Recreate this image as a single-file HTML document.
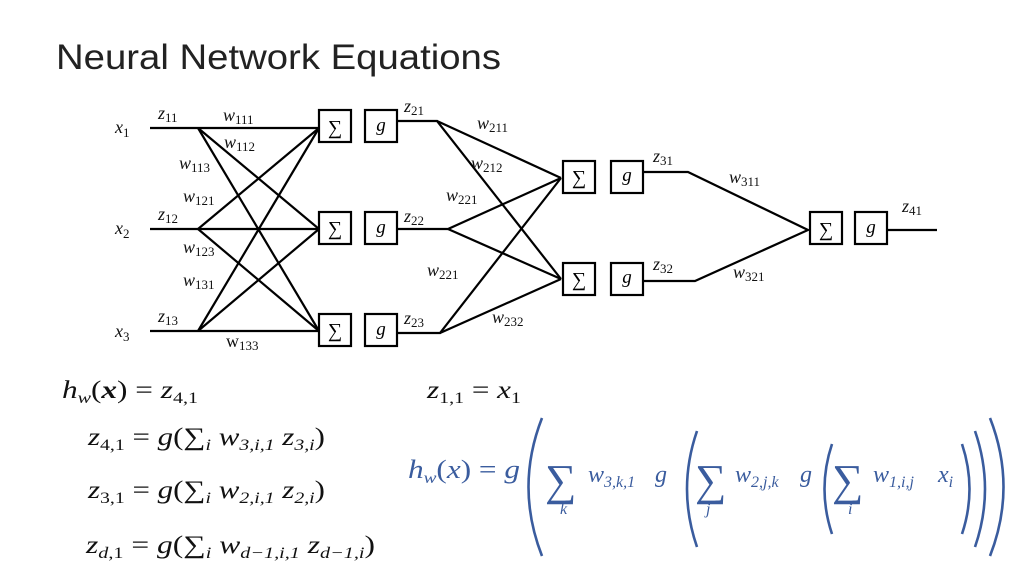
<!DOCTYPE html>
<html><head><meta charset="utf-8"><style>
html,body{margin:0;padding:0;background:#fff;}
svg{display:block;}
.m{font-family:"Liberation Serif",serif;font-style:italic;}
.s{font-size:13px;font-style:normal;}
</style></head><body>
<svg width="1024" height="576" viewBox="0 0 1024 576" xmlns="http://www.w3.org/2000/svg">
<text x="56" y="69" font-family="Liberation Sans, sans-serif" font-size="35" fill="#222" textLength="445" lengthAdjust="spacingAndGlyphs">Neural Network Equations</text>

<g stroke="#000" stroke-width="2.2" fill="none">
<line x1="150" y1="128" x2="319" y2="128"/>
<line x1="150" y1="229" x2="319" y2="229"/>
<line x1="150" y1="331" x2="319" y2="331"/>
<line x1="198" y1="128" x2="319" y2="229"/><line x1="198" y1="128" x2="319" y2="331"/>
<line x1="198" y1="229" x2="319" y2="128"/><line x1="198" y1="229" x2="319" y2="331"/>
<line x1="198" y1="331" x2="319" y2="128"/><line x1="198" y1="331" x2="319" y2="229"/>
<rect x="319" y="110" width="32" height="32"/><rect x="365" y="110" width="32" height="32"/>
<rect x="319" y="212" width="32" height="32"/><rect x="365" y="212" width="32" height="32"/>
<rect x="319" y="314" width="32" height="32"/><rect x="365" y="314" width="32" height="32"/>
<polyline points="397,121 437,121 561,279"/><line x1="437" y1="121" x2="561" y2="178"/>
<polyline points="397,229 448,229 561,178"/><line x1="448" y1="229" x2="561" y2="279"/>
<polyline points="397,333 440,333 561,178"/><line x1="440" y1="333" x2="561" y2="279"/>
<rect x="563" y="161" width="32" height="32"/><rect x="611" y="161" width="32" height="32"/>
<rect x="563" y="263" width="32" height="32"/><rect x="611" y="263" width="32" height="32"/>
<polyline points="643,172 688,172 808,230 695,281 643,281"/>
<rect x="810" y="212" width="32" height="32"/><rect x="855" y="212" width="32" height="32"/>
<line x1="887" y1="230" x2="937" y2="230"/>
</g>

<g font-family="Liberation Serif, serif" font-size="20" text-anchor="middle">
<text x="335" y="134">∑</text><text x="335" y="235">∑</text><text x="335" y="337">∑</text>
<text x="579" y="184">∑</text><text x="579" y="286">∑</text><text x="826" y="236">∑</text>
</g>
<g class="m" font-size="19" text-anchor="middle">
<text x="381" y="131">g</text><text x="381" y="233">g</text><text x="381" y="335">g</text>
<text x="627" y="181">g</text><text x="627" y="283">g</text><text x="871" y="233">g</text>
</g>

<g class="m" font-size="18" fill="#111">
<text x="115" y="133">x<tspan class="s" dy="4">1</tspan></text>
<text x="115" y="234">x<tspan class="s" dy="4">2</tspan></text>
<text x="115" y="337">x<tspan class="s" dy="4">3</tspan></text>
<text x="158" y="119">z<tspan class="s" dy="3">11</tspan></text>
<text x="158" y="220">z<tspan class="s" dy="3">12</tspan></text>
<text x="158" y="322">z<tspan class="s" dy="3">13</tspan></text>
<text x="223" y="121">w<tspan class="s" dy="3">111</tspan></text>
<text x="224" y="148">w<tspan class="s" dy="3">112</tspan></text>
<text x="179" y="169">w<tspan class="s" dy="3">113</tspan></text>
<text x="183" y="202">w<tspan class="s" dy="3">121</tspan></text>
<text x="183" y="253">w<tspan class="s" dy="3">123</tspan></text>
<text x="183" y="286">w<tspan class="s" dy="3">131</tspan></text>
<text x="226" y="347" font-style="normal">w<tspan class="s" dy="3">133</tspan></text>
<text x="404" y="112">z<tspan class="s" dy="3">21</tspan></text>
<text x="404" y="222">z<tspan class="s" dy="3">22</tspan></text>
<text x="404" y="324">z<tspan class="s" dy="3">23</tspan></text>
<text x="477" y="129">w<tspan class="s" dy="3">211</tspan></text>
<text x="471" y="169">w<tspan class="s" dy="3">212</tspan></text>
<text x="446" y="201">w<tspan class="s" dy="3">221</tspan></text>
<text x="427" y="276">w<tspan class="s" dy="3">221</tspan></text>
<text x="492" y="323">w<tspan class="s" dy="3">232</tspan></text>
<text x="653" y="162">z<tspan class="s" dy="3">31</tspan></text>
<text x="653" y="270">z<tspan class="s" dy="3">32</tspan></text>
<text x="729" y="183">w<tspan class="s" dy="3">311</tspan></text>
<text x="733" y="278">w<tspan class="s" dy="3">321</tspan></text>
<text x="902" y="212">z<tspan class="s" dy="3">41</tspan></text>
</g>

<g class="m" font-size="25" fill="#111">
<text x="62" y="398" textLength="136" lengthAdjust="spacingAndGlyphs">h<tspan font-size="16" dy="5">w</tspan><tspan dy="-5" font-style="normal">(</tspan><tspan font-weight="bold">x</tspan><tspan font-style="normal">) = </tspan>z<tspan font-size="16" dy="5" font-style="normal">4,1</tspan></text>
<text x="88" y="445" textLength="237" lengthAdjust="spacingAndGlyphs">z<tspan font-size="16" dy="5" font-style="normal">4,1</tspan><tspan dy="-5" font-style="normal"> = </tspan>g<tspan font-style="normal">(∑</tspan><tspan font-size="16" dy="5">i</tspan><tspan dy="-5"> w</tspan><tspan font-size="16" dy="5">3,i,1</tspan><tspan dy="-5"> z</tspan><tspan font-size="16" dy="5">3,i</tspan><tspan dy="-5" font-style="normal">)</tspan></text>
<text x="88" y="498" textLength="237" lengthAdjust="spacingAndGlyphs">z<tspan font-size="16" dy="5" font-style="normal">3,1</tspan><tspan dy="-5" font-style="normal"> = </tspan>g<tspan font-style="normal">(∑</tspan><tspan font-size="16" dy="5">i</tspan><tspan dy="-5"> w</tspan><tspan font-size="16" dy="5">2,i,1</tspan><tspan dy="-5"> z</tspan><tspan font-size="16" dy="5">2,i</tspan><tspan dy="-5" font-style="normal">)</tspan></text>
<text x="86" y="553" textLength="289" lengthAdjust="spacingAndGlyphs">z<tspan font-size="16" dy="5">d</tspan><tspan font-size="16" font-style="normal">,1</tspan><tspan dy="-5" font-style="normal"> = </tspan>g<tspan font-style="normal">(∑</tspan><tspan font-size="16" dy="5">i</tspan><tspan dy="-5"> w</tspan><tspan font-size="16" dy="5">d−1,i,1</tspan><tspan dy="-5"> z</tspan><tspan font-size="16" dy="5">d−1,i</tspan><tspan dy="-5" font-style="normal">)</tspan></text>
<text x="427" y="398" textLength="94" lengthAdjust="spacingAndGlyphs">z<tspan font-size="16" dy="5" font-style="normal">1,1</tspan><tspan dy="-5" font-style="normal"> = </tspan>x<tspan font-size="16" dy="5" font-style="normal">1</tspan></text>
</g>

<g fill="#3a5c9e">
<text class="m" x="408" y="478" font-size="26" textLength="112" lengthAdjust="spacingAndGlyphs">h<tspan font-size="16" dy="5">w</tspan><tspan dy="-5" font-style="normal">(</tspan>x<tspan font-style="normal">) = </tspan>g</text>
<g font-family="Liberation Serif, serif" font-size="44"><text x="545" y="495">∑</text><text x="695" y="495">∑</text><text x="832" y="495">∑</text></g>
<g class="m" font-size="16"><text x="560" y="514">k</text><text x="706" y="514">j</text><text x="848" y="514">i</text></g>
<g class="m" font-size="24">
<text x="588" y="482">w<tspan font-size="16" dy="5">3,k,1</tspan></text>
<text x="655" y="482">g</text>
<text x="735" y="482">w<tspan font-size="16" dy="5">2,j,k</tspan></text>
<text x="800" y="482">g</text>
<text x="873" y="482">w<tspan font-size="16" dy="5">1,i,j</tspan></text>
<text x="938" y="482">x<tspan font-size="16" dy="5">i</tspan></text>
</g>
</g>
<g fill="none" stroke="#3a5c9e" stroke-width="2.6">
<path d="M542,418 Q515,487 542,556"/>
<path d="M697,431 Q677,489 697,547"/>
<path d="M832,444 Q817,489 832,534"/>
<path d="M962,444 Q977,489 962,534"/>
<path d="M975,431 Q995,489 975,547"/>
<path d="M990,418 Q1017,487 990,556"/>
</g>
</svg>
</body></html>
